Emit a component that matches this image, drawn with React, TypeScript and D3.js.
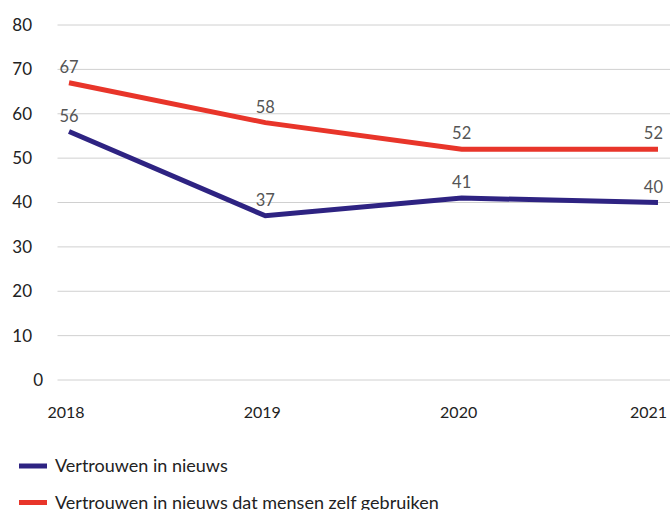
import React from "react";
import * as d3 from "d3";

const years = ["2018", "2019", "2020", "2021"];
const trustNews = [56, 37, 41, 40];
const trustOwnNews = [67, 58, 52, 52];
const yTicks = [0, 10, 20, 30, 40, 50, 60, 70, 80];
const seriesNames = ["Vertrouwen in nieuws", "Vertrouwen in nieuws dat mensen zelf gebruiken"];
const seriesColors = ["#2e2382", "#e8352a"];

const W = 670;
const H = 510;
const FONT = "Lato, 'Open Sans', sans-serif";

export default function App() {
  const x = d3.scalePoint<string>().domain(years).range([69, 658]);
  const y = d3.scaleLinear().domain([0, 80]).range([380, 25]);
  const line = d3
    .line<number>()
    .x((_, i) => x(years[i]) as number)
    .y((d) => y(d));
  const series = [trustNews, trustOwnNews];

  return (
    <svg
      width={W}
      height={H}
      style={{ position: "absolute", left: 0, top: 0, background: "#fff" }}
      fontFamily={FONT}
    >
      {yTicks.map((t) => (
        <g key={t}>
          <line x1={57.5} x2={670} y1={y(t)} y2={y(t)} stroke="#d0d0d0" strokeWidth={1} />
          <text
            x={t === 0 ? 43 : 32}
            y={y(t)}
            dy="0.35em"
            textAnchor="end"
            fontSize={17}
            fill="#222"
          >
            {t}
          </text>
        </g>
      ))}
      {years.map((yr, i) => (
        <text
          key={yr}
          x={(x(yr) as number) + (i === years.length - 1 ? 9 : -3)}
          y={418}
          textAnchor={i === years.length - 1 ? "end" : "middle"}
          fontSize={16}
          fill="#222"
        >
          {yr}
        </text>
      ))}
      {series.map((s, si) => (
        <g key={si}>
          <path d={line(s) || ""} fill="none" stroke={seriesColors[si]} strokeWidth={5} strokeLinejoin="miter" />
          {s.map((v, i) => (
            <text
              key={i}
              x={(x(years[i]) as number) + (i === years.length - 1 ? 5 : 0)}
              y={y(v) - 10}
              textAnchor={i === years.length - 1 ? "end" : "middle"}
              fontSize={16.5}
              fill="#555"
            >
              {v}
            </text>
          ))}
        </g>
      ))}
      {seriesNames.map((n, i) => (
        <g key={n} transform={`translate(0, ${466 + i * 36.5})`}>
          <line x1={19} x2={47} y1={0} y2={0} stroke={seriesColors[i]} strokeWidth={5} />
          <text x={55} y={6} fontSize={18} fill="#222">
            {n}
          </text>
        </g>
      ))}
    </svg>
  );
}
